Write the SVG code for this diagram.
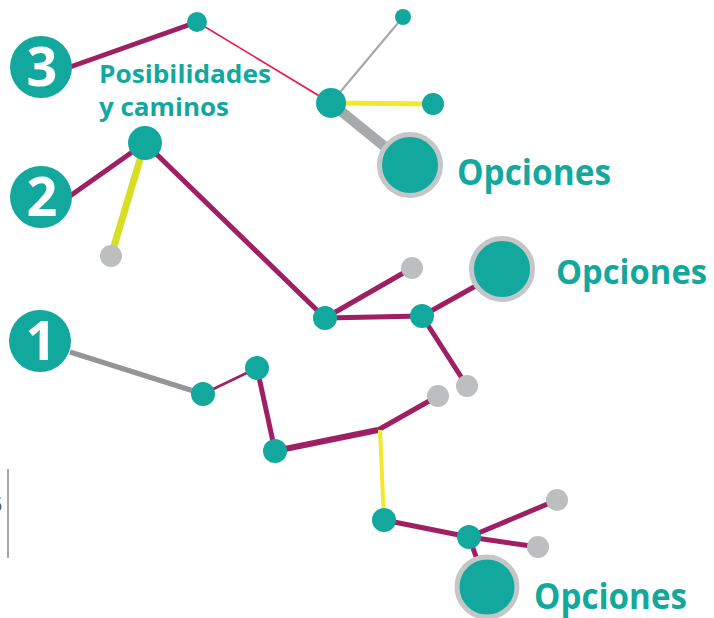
<svg xmlns="http://www.w3.org/2000/svg" width="714" height="618" viewBox="0 0 714 618">
<style>
.tl{fill:#13a89e}
.gy{fill:#bcbec0}
.big{fill:#13a89e;stroke:#c5c6c8;stroke-width:5}
.num{font-family:"Open Sans","Liberation Sans",sans-serif;font-weight:bold;font-size:54px;fill:#fff;text-anchor:middle}
.lbl{font-family:"Open Sans","Liberation Sans",sans-serif;font-weight:bold;fill:#13a89e}
.pu{stroke:#9e1f63;fill:none}
</style>
<rect width="714" height="618" fill="#fff"/>
<g id="connectors" stroke-linecap="butt">
  <line class="pu" x1="70" y1="67" x2="197" y2="22" stroke-width="5"/>
  <line x1="197" y1="22" x2="331" y2="103" stroke="#e6194f" stroke-width="1.6"/>
  <line x1="331" y1="103" x2="403" y2="17" stroke="#a7a9ac" stroke-width="2.2"/>
  <line x1="331" y1="103" x2="433" y2="104" stroke="#f2e92c" stroke-width="5"/>
  <line x1="331" y1="103" x2="395" y2="155" stroke="#a7a9ac" stroke-width="10"/>
  <line class="pu" x1="70" y1="196" x2="145" y2="143" stroke-width="5"/>
  <line x1="145" y1="143" x2="111" y2="256" stroke="#d7df23" stroke-width="7"/>
  <line class="pu" x1="145" y1="143" x2="325" y2="318" stroke-width="5"/>
  <line class="pu" x1="325" y1="318" x2="412" y2="268" stroke-width="5"/>
  <line class="pu" x1="325" y1="318" x2="422" y2="316" stroke-width="5"/>
  <line class="pu" x1="422" y1="316" x2="490" y2="278" stroke-width="5"/>
  <line class="pu" x1="422" y1="316" x2="467" y2="386" stroke-width="5"/>
  <line x1="70" y1="352" x2="203" y2="394" stroke="#939598" stroke-width="5"/>
  <line class="pu" x1="203" y1="394" x2="257" y2="368" stroke-width="2.6"/>
  <line class="pu" x1="257" y1="368" x2="275" y2="451" stroke-width="5"/>
  <line class="pu" x1="275" y1="451" x2="378" y2="430" stroke-width="6"/>
  <line class="pu" x1="378" y1="430" x2="438" y2="396" stroke-width="5"/>
  <line x1="380" y1="430" x2="384" y2="520" stroke="#f2e92c" stroke-width="4"/>
  <line class="pu" x1="384" y1="520" x2="469" y2="537" stroke-width="5"/>
  <line class="pu" x1="469" y1="537" x2="557" y2="500" stroke-width="5"/>
  <line class="pu" x1="469" y1="537" x2="538" y2="547" stroke-width="5"/>
  <line class="pu" x1="469" y1="537" x2="478" y2="562" stroke-width="5"/>
</g>
<g id="n3"><circle class="tl" cx="41" cy="67" r="31"/><text class="num" x="42" y="86">3</text></g>
<g id="n2"><circle class="tl" cx="41" cy="197" r="31"/><text class="num" x="42" y="216">2</text></g>
<g id="n1"><circle class="tl" cx="40" cy="341" r="31"/><text class="num" x="41" y="360">1</text></g>
<g id="label-posibilidades"><text class="lbl" font-size="25.5"><tspan x="99" y="83" textLength="172" lengthAdjust="spacingAndGlyphs">Posibilidades</tspan><tspan x="99" y="116" textLength="130" lengthAdjust="spacingAndGlyphs">y caminos</tspan></text></g>
<g id="nA"><circle class="tl" cx="197" cy="22" r="10"/></g>
<g id="nB"><circle class="tl" cx="331" cy="103" r="15"/></g>
<g id="nC"><circle class="tl" cx="403" cy="17" r="8"/></g>
<g id="nD"><circle class="tl" cx="433" cy="104" r="11"/></g>
<g id="nE"><circle class="big" cx="410" cy="165" r="30.5"/></g>
<g id="opc1"><text class="lbl" font-size="35" x="457" y="185" textLength="154" lengthAdjust="spacingAndGlyphs">Opciones</text></g>
<g id="nF"><circle class="tl" cx="145" cy="143" r="17"/></g>
<g id="nG"><circle class="gy" cx="111" cy="256" r="11"/></g>
<g id="nH"><circle class="tl" cx="325" cy="318" r="12"/></g>
<g id="nI"><circle class="gy" cx="412" cy="268" r="11"/></g>
<g id="nJ"><circle class="tl" cx="422" cy="316" r="12"/></g>
<g id="nK"><circle class="big" cx="502" cy="269" r="30.5"/></g>
<g id="opc2"><text class="lbl" font-size="34" x="556" y="284" textLength="151" lengthAdjust="spacingAndGlyphs">Opciones</text></g>
<g id="nL"><circle class="gy" cx="467" cy="386" r="11"/></g>
<g id="nM"><circle class="tl" cx="203" cy="394" r="12"/></g>
<g id="nN"><circle class="tl" cx="257" cy="368" r="12"/></g>
<g id="nO"><circle class="tl" cx="275" cy="451" r="12"/></g>
<g id="nQ"><circle class="gy" cx="438" cy="396" r="11"/></g>
<g id="nR"><circle class="tl" cx="384" cy="520" r="12"/></g>
<g id="nS"><circle class="tl" cx="469" cy="537" r="12"/></g>
<g id="nT"><circle class="gy" cx="557" cy="500" r="11"/></g>
<g id="nU"><circle class="gy" cx="538" cy="547" r="11"/></g>
<g id="nV"><circle class="big" cx="487" cy="587" r="30"/></g>
<g id="opc3"><text class="lbl" font-size="35" x="534" y="609" textLength="153" lengthAdjust="spacingAndGlyphs">Opciones</text></g>
<g id="edge">
  <line x1="8" y1="469" x2="8" y2="558" stroke="#a7a9ac" stroke-width="2"/>
  <text x="-10" y="512" font-family="Liberation Sans, sans-serif" font-size="22" fill="#58595b">5</text>
</g>
</svg>
